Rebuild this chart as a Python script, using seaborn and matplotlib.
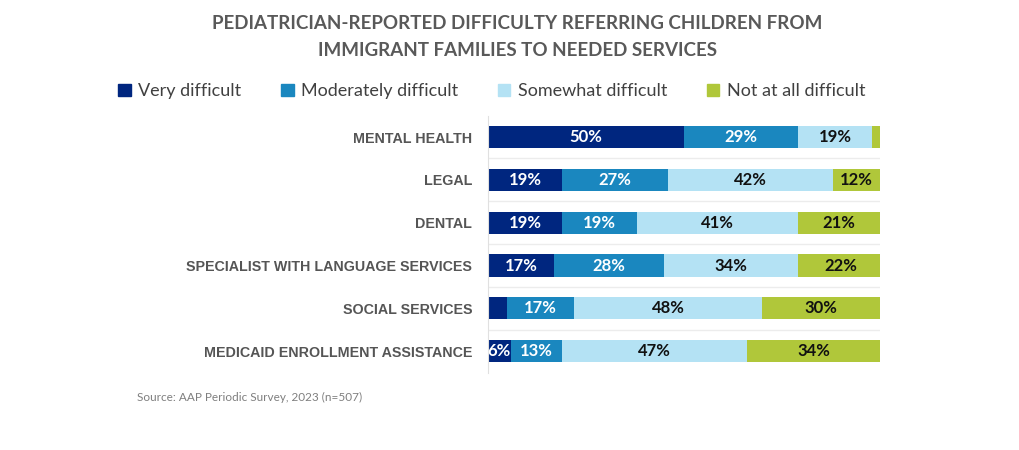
import numpy as np
import pandas as pd
import matplotlib
matplotlib.use("Agg")
import matplotlib.pyplot as plt
import seaborn as sns

services = ["MENTAL HEALTH", "LEGAL", "DENTAL", "SPECIALIST WITH LANGUAGE SERVICES",
            "SOCIAL SERVICES", "MEDICAID ENROLLMENT ASSISTANCE"]
levels = ["Very difficult", "Moderately difficult", "Somewhat difficult", "Not at all difficult"]
very = [50, 19, 19, 17, 5, 6]
moderately = [29, 27, 19, 28, 17, 13]
somewhat = [19, 42, 41, 34, 48, 47]
not_at_all = [2, 12, 21, 22, 30, 34]

colors = ["#00267f", "#1a87bf", "#b4e2f4", "#b0c73a"]
text_colors = ["white", "white", "#111111", "#111111"]

sns.set_style("white")
plt.rcParams["font.family"] = ["Lato", "DejaVu Sans"]

df = pd.DataFrame({"service": services, levels[0]: very, levels[1]: moderately,
                   levels[2]: somewhat, levels[3]: not_at_all})
cum = df[levels].cumsum(axis=1)

fig = plt.figure(figsize=(10.2, 4.5), dpi=100)
ax = fig.add_axes([0.478, 0.172, 0.385, 0.571])

# stacked bars: draw cumulative totals, longest first
for i in range(len(levels) - 1, -1, -1):
    sns.barplot(x=cum[levels[i]], y=df["service"], order=services, color=colors[i],
                width=0.52, ax=ax, saturation=1, edgecolor="none", orient="h")

for r in range(len(services)):
    for i, lev in enumerate(levels):
        v = df.loc[r, lev]
        if v < 6:
            continue
        xc = cum.loc[r, lev] - v / 2
        ax.text(xc, r, f"{v}%", ha="center", va="center", color=text_colors[i],
                fontsize=12, fontweight="bold")

for k in range(len(services) - 1):
    ax.axhline(k + 0.5, color="#ececec", lw=1, zorder=0)

ax.set_xlim(0, 100)
ax.set_ylim(len(services) - 0.5, -0.5)
ax.set_xlabel("")
ax.set_ylabel("")
ax.set_xticks([])
for s in ["top", "right", "bottom"]:
    ax.spines[s].set_visible(False)
ax.spines["left"].set_color("#e0e0e0")
ax.tick_params(axis="y", length=0, pad=11)
for lab in ax.get_yticklabels():
    lab.set_fontfamily(["Liberation Sans", "DejaVu Sans"])
    lab.set_fontweight("bold")
    lab.set_fontsize(10.3)
    lab.set_color("#555555")

fig.text(0.507, 0.948, "PEDIATRICIAN-REPORTED DIFFICULTY REFERRING CHILDREN FROM",
         ha="center", va="center", fontsize=13.5, fontweight="bold", color="#595959")
fig.text(0.507, 0.888, "IMMIGRANT FAMILIES TO NEEDED SERVICES",
         ha="center", va="center", fontsize=13.5, fontweight="bold", color="#595959")

# legend
handles = [plt.Rectangle((0, 0), 1, 1, color=c) for c in colors]
fig.legend(handles, levels, loc="center", bbox_to_anchor=(0.482, 0.797), ncol=4,
           frameon=False, fontsize=13, handlelength=0.7, handleheight=0.7,
           handletextpad=0.4, columnspacing=2.2, labelcolor="#404040")

fig.text(0.134, 0.116, "Source: AAP Periodic Survey, 2023 (n=507)", ha="left", va="center",
         fontsize=8.5, color="#7f7f7f")

fig.savefig("out.png", dpi=100)
